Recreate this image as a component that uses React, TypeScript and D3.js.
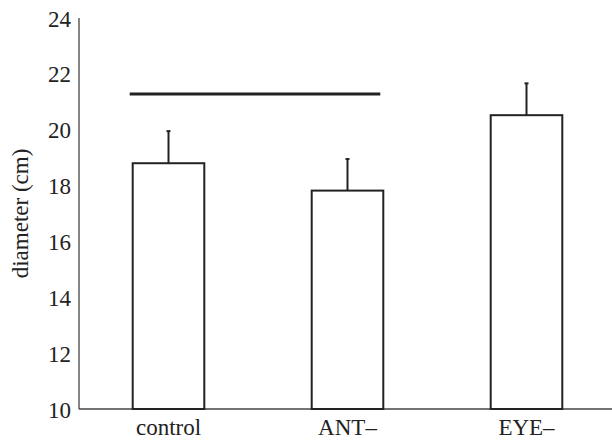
import React, { useEffect, useRef } from 'react';
import * as d3 from 'd3';

const categories = ['control', 'ANT–', 'EYE–'];
const means = [18.8, 17.82, 20.52];
const errors = [1.15, 1.13, 1.14];
const yTicks = [10, 12, 14, 16, 18, 20, 22, 24];
const sigValue = 21.28;
const sigGroups = ['control', 'ANT–'];

const App = () => {
  const svgRef = useRef<SVGSVGElement>(null);

  useEffect(() => {
    const svg = d3.select(svgRef.current);
    const width = 612;
    const height = 443;
    const font = 'Liberation Serif, Times New Roman, Times, DejaVu Serif, serif';

    svg.selectAll('*').remove();

    const x = d3.scaleBand<string>()
      .domain(categories)
      .range([79, 616])
      .paddingInner(0.6)
      .paddingOuter(0.3);

    const y = d3.scaleLinear()
      .domain([10, 24])
      .range([409, 18]);

    const data = categories.map((c, i) => ({ name: c, mean: means[i], err: errors[i] }));

    // axes
    svg.append('line')
      .attr('x1', 79).attr('x2', width)
      .attr('y1', y(10)).attr('y2', y(10))
      .attr('stroke', '#444').attr('stroke-width', 1.3);
    svg.append('line')
      .attr('x1', 79).attr('x2', 79)
      .attr('y1', y(24)).attr('y2', y(10))
      .attr('stroke', '#444').attr('stroke-width', 1.3);

    svg.append('g')
      .style('font-family', font)
      .selectAll('text')
      .data(yTicks)
      .join('text')
        .attr('x', 71)
        .attr('y', d => y(d) + 8.5)
        .attr('text-anchor', 'end')
        .attr('font-size', 23)
        .attr('fill', '#222')
        .text(d => d);

    svg.append('text')
      .attr('transform', `translate(28,${(y(10) + y(24)) / 2}) rotate(-90)`)
      .attr('text-anchor', 'middle')
      .style('font-family', font)
      .attr('font-size', 23)
      .attr('fill', '#222')
      .text('diameter (cm)');

    // error bars
    const eb = svg.append('g').attr('stroke', '#222').attr('stroke-width', 2);
    eb.selectAll('line.v')
      .data(data)
      .join('line')
        .attr('class', 'v')
        .attr('x1', d => x(d.name)! + x.bandwidth() / 2)
        .attr('x2', d => x(d.name)! + x.bandwidth() / 2)
        .attr('y1', d => y(d.mean))
        .attr('y2', d => y(d.mean + d.err));
    eb.selectAll('line.c')
      .data(data)
      .join('line')
        .attr('class', 'c')
        .attr('x1', d => x(d.name)! + x.bandwidth() / 2 - 2)
        .attr('x2', d => x(d.name)! + x.bandwidth() / 2 + 2)
        .attr('y1', d => y(d.mean + d.err))
        .attr('y2', d => y(d.mean + d.err));

    // bars
    svg.append('g')
      .selectAll('rect')
      .data(data)
      .join('rect')
        .attr('x', d => x(d.name)!)
        .attr('y', d => y(d.mean))
        .attr('width', x.bandwidth())
        .attr('height', d => y(10) - y(d.mean))
        .attr('fill', 'white')
        .attr('stroke', '#222')
        .attr('stroke-width', 2);

    // significance line
    svg.append('line')
      .attr('x1', x(sigGroups[0])! - 3)
      .attr('x2', x(sigGroups[1])! + x.bandwidth() - 3)
      .attr('y1', y(sigValue)).attr('y2', y(sigValue))
      .attr('stroke', '#222').attr('stroke-width', 3);

    svg.append('g')
      .style('font-family', font)
      .selectAll('text')
      .data(categories)
      .join('text')
        .attr('x', d => x(d)! + x.bandwidth() / 2)
        .attr('y', 435)
        .attr('text-anchor', 'middle')
        .attr('font-size', 23)
        .attr('fill', '#222')
        .text(d => d);

    svg.attr('width', width).attr('height', height);
  }, []);

  return (
    <svg
      ref={svgRef}
      width="612"
      height="443"
      style={{ position: 'absolute', left: 0, top: 0, background: 'white' }}
    ></svg>
  );
};

export default App;
